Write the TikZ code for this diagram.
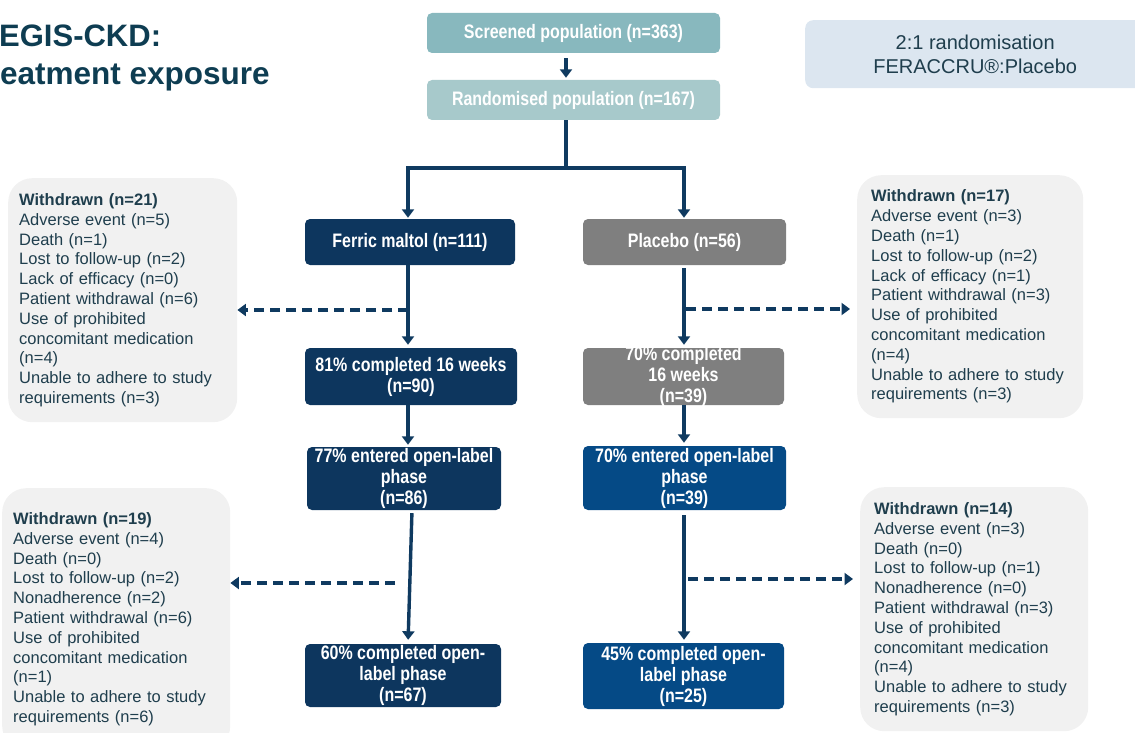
\documentclass[tikz,border=0pt]{standalone}
\usepackage{fontspec}
\setmainfont{Liberation Sans}
\newfontfamily\narrowfont[FakeStretch=0.82]{Liberation Sans}
\usetikzlibrary{arrows.meta}
\definecolor{navy}{HTML}{0D365E}
\definecolor{midblue}{HTML}{054A86}
\definecolor{greybox}{HTML}{7F7F7F}
\definecolor{tealdark}{HTML}{88B8BE}
\definecolor{teallight}{HTML}{A7C9CB}
\definecolor{paleblue}{HTML}{DCE6F0}
\definecolor{palegrey}{HTML}{F1F1F1}
\definecolor{arrowcol}{HTML}{0F3A60}
\definecolor{slatetxt}{HTML}{1F3E4D}
\definecolor{titlecol}{HTML}{0E3D52}

\begin{document}
\begin{tikzpicture}[x=1pt,y=-1pt,
	flow/.style={draw=arrowcol, line width=3.4pt, -{Triangle[width=12pt,length=8.5pt]}},
	drop/.style={flow, dash pattern=on 10pt off 6pt},
	stage/.style={rectangle, rounded corners=5pt, inner sep=0pt, text=white, align=center, font=\narrowfont\bfseries\fontsize{19.5}{21}\selectfont},
	reasons/.style={rectangle, rounded corners=24pt, fill=palegrey, anchor=north west, inner xsep=11pt, inner ysep=0pt, align=left, text=slatetxt, font=\fontsize{16.5}{19.8}\selectfont}]
	\useasboundingbox (0,0) rectangle (1135,733);
	\clip (0,0) rectangle (1135,733);
	\node[anchor=base west, inner sep=0pt, text=titlecol, font=\bfseries\fontsize{31}{36}\selectfont] (title1) at (-1,47) {EGIS-CKD:};
	\node[anchor=base west, inner sep=0pt, text=titlecol, font=\bfseries\fontsize{31.5}{36}\selectfont] (title2) at (0,85) {eatment exposure};
	\node[rectangle, rounded corners=8pt, fill=paleblue, anchor=north west, minimum width=340, minimum height=68, inner sep=0pt, align=center, text=slatetxt, font=\fontsize{20}{24}\selectfont] (ratio) at (805,20) {2:1 randomisation\\FERACCRU®:Placebo};
	\node[stage, fill=tealdark, minimum width=293, minimum height=40] (screen) at (573.5,33) {Screened population (n=363)};
	\node[stage, fill=teallight, minimum width=293, minimum height=40] (rand) at (573.5,100) {Randomised population (n=167)};
	\node[stage, fill=navy, minimum width=210, minimum height=46] (ferric) at (410,242) {Ferric maltol (n=111)};
	\node[stage, fill=greybox, minimum width=203, minimum height=46] (placebo) at (684.5,242) {Placebo (n=56)};
	\node[stage, fill=navy, minimum width=212, minimum height=57] (doneA) at (411,376.5) {81\% completed 16 weeks\\(n=90)};
	\node[stage, fill=greybox, minimum width=201, minimum height=57, inner ysep=-2pt] (doneB) at (683.5,376.5) {70\% completed\\16 weeks\\(n=39)};
	\node[stage, fill=navy, minimum width=194, minimum height=63] (openA) at (404,478.5) {77\% entered open-label\\phase\\(n=86)};
	\node[stage, fill=midblue, minimum width=203, minimum height=64] (openB) at (684.5,478) {70\% entered open-label\\phase\\(n=39)};
	\node[stage, fill=navy, minimum width=196, minimum height=63] (endA) at (403,675.5) {60\% completed open-\\label phase\\(n=67)};
	\node[stage, fill=midblue, minimum width=201, minimum height=66] (endB) at (683.5,676) {45\% completed open-\\label phase\\(n=25)};
	\node[reasons, text width=207pt, minimum height=244] (outA1) at (8,178) {\textbf{Withdrawn (n=21)}\\Adverse event (n=5)\\Death (n=1)\\Lost to follow-up (n=2)\\Lack of efficacy (n=0)\\Patient withdrawal (n=6)\\Use of prohibited\\concomitant medication\\(n=4)\\Unable to adhere to study\\requirements (n=3)};
	\node[reasons, inner xsep=14pt, text width=198pt, minimum height=243] (outB1) at (857,175) {\textbf{Withdrawn (n=17)}\\Adverse event (n=3)\\Death (n=1)\\Lost to follow-up (n=2)\\Lack of efficacy (n=1)\\Patient withdrawal (n=3)\\Use of prohibited\\concomitant medication\\(n=4)\\Unable to adhere to study\\requirements (n=3)};
	\node[reasons, text width=206pt, minimum height=262] (outA2) at (2,488) {\textbf{Withdrawn (n=19)}\\Adverse event (n=4)\\Death (n=0)\\Lost to follow-up (n=2)\\Nonadherence (n=2)\\Patient withdrawal (n=6)\\Use of prohibited\\concomitant medication\\(n=1)\\Unable to adhere to study\\requirements (n=6)};
	\node[reasons, inner xsep=14pt, text width=200pt, minimum height=244] (outB2) at (860,487) {\textbf{Withdrawn (n=14)}\\Adverse event (n=3)\\Death (n=0)\\Lost to follow-up (n=1)\\Nonadherence (n=0)\\Patient withdrawal (n=3)\\Use of prohibited\\concomitant medication\\(n=4)\\Unable to adhere to study\\requirements (n=3)};
	\coordinate (split) at (566,168);
	\coordinate (colA) at (408,0);
	\coordinate (colB) at (684,0);
	\coordinate (lossA1) at (408,310);
	\coordinate (lossB1) at (686,309);
	\coordinate (lossA2) at (395,583);
	\coordinate (lossB2) at (688,579);
	\draw[flow, shorten <=5pt, shorten >=2pt] (screen.south -| split) -- (rand.north -| split);
	\draw[draw=arrowcol, line width=3.4pt] (rand.south -| split) -- (split);
	\draw[flow, shorten >=1pt] (split) -| (ferric.north -| colA);
	\draw[flow, shorten >=1pt] (split) -| (placebo.north -| colB);
	\draw[flow, shorten >=3pt] (ferric.south -| colA) -- (doneA.north -| colA);
	\draw[flow, shorten <=3pt, shorten >=3pt] (placebo.south -| colB) -- (doneB.north -| colB);
	\draw[flow, shorten >=2pt] (doneA.south -| colA) -- (openA.north -| colA);
	\draw[flow, shorten >=3pt] (doneB.south -| colB) -- (openB.north -| colB);
	\draw[flow, shorten <=3pt, shorten >=4pt] ([xshift=8pt]openA.south) -- ([xshift=5pt]endA.north);
	\draw[flow, shorten <=5pt, shorten >=3pt] (openB.south -| colB) -- (endB.north -| colB);
	\draw[drop] (lossA1) -- (outA1.east |- lossA1);
	\draw[drop] (lossB1) -- ([xshift=-7pt]outB1.west |- lossB1);
	\draw[drop] (lossA2) -- (outA2.east |- lossA2);
	\draw[drop] (lossB2) -- ([xshift=-7pt]outB2.west |- lossB2);
\end{tikzpicture}
\end{document}
